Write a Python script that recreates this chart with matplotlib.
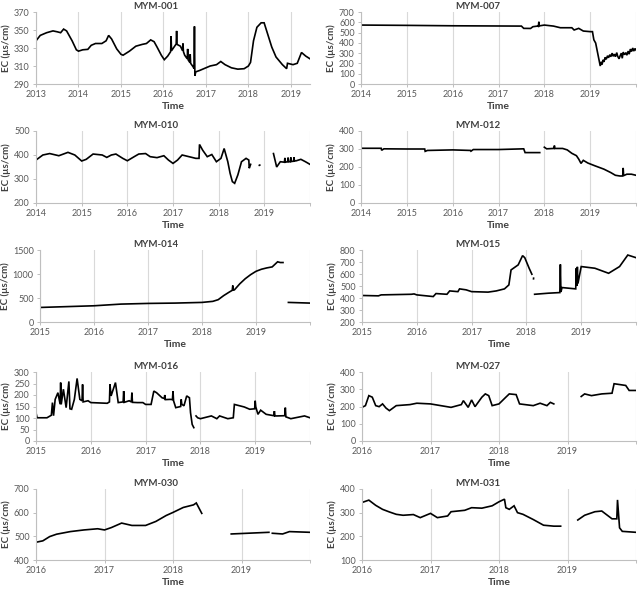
import numpy as np
from matplotlib import pyplot as plt

plt.rcParams['font.family'] = ['Lato', 'DejaVu Sans']

nan = float('nan')

# ---------------- data (decimal year, EC in µs/cm) ----------------
mym001_year = [2013.0, 2013.1, 2013.25, 2013.4, 2013.5, 2013.58, 2013.65, 2013.72, 2013.85, 2013.95,
               2014.0, 2014.1, 2014.22, 2014.3, 2014.4, 2014.55, 2014.65, 2014.71, 2014.78, 2014.9,
               2015.0, 2015.05, 2015.2, 2015.35, 2015.5, 2015.6, 2015.7, 2015.78, 2015.85, 2015.95,
               2016.02, 2016.1, 2016.17, 2016.18, 2016.19, 2016.3, 2016.31, 2016.32, 2016.4, 2016.45,
               2016.46, 2016.47, 2016.5, 2016.56, 2016.57, 2016.58, 2016.62, 2016.63, 2016.64, 2016.7,
               2016.72, 2016.73, 2016.74, 2016.76, 2016.85, 2016.95, 2017.1, 2017.25, 2017.35, 2017.45,
               2017.6, 2017.75, 2017.9, 2018.0, 2018.05, 2018.12, 2018.2, 2018.3, 2018.37, 2018.45,
               2018.55, 2018.65, 2018.8, 2018.9, 2018.92, 2019.05, 2019.15, 2019.25, 2019.35, 2019.45]
mym001_ec = [338, 344, 347, 349, 348, 347, 351, 349, 338, 328,
             326.5, 328, 328.5, 333, 335, 335, 338, 344, 340, 329,
             323, 322, 326.5, 332, 334, 335, 339, 337, 331, 322,
             317, 321, 326, 343, 327, 334.5, 349, 334, 332, 327,
             335, 326, 322, 318, 329, 317, 314, 323, 313, 309,
             307, 354, 299, 303.5, 305, 307, 310, 311.5, 315, 311.5,
             308, 306.5, 307, 310, 314, 338, 353, 358, 358, 346,
             331, 320, 311.5, 307, 313, 311.5, 313, 325, 321, 318]

mym007_year = [2014.0, 2015.0, 2016.0, 2017.0, 2017.5, 2017.55, 2017.7, 2017.75, 2017.85, 2017.87,
               2017.88, 2017.89, 2018.0, 2018.2, 2018.35, 2018.6, 2018.65, 2018.75, 2018.85, 2019.0,
               2019.05, 2019.08, 2019.12, 2019.17, 2019.22, 2019.24, 2019.26, 2019.28, 2019.3, 2019.33,
               2019.35, 2019.38, 2019.4, 2019.43, 2019.45, 2019.48, 2019.5, 2019.53, 2019.55, 2019.58,
               2019.6, 2019.63, 2019.65, 2019.68, 2019.7, 2019.72, 2019.75, 2019.78, 2019.8, 2019.83,
               2019.85, 2019.88, 2019.9, 2019.93, 2019.95, 2019.98, 2020.0]
mym007_ec = [573, 570, 566, 564, 563, 541, 540, 557, 563, 560,
             605, 565, 573, 563, 547, 547, 525, 541, 515, 509,
             509, 430, 398, 286, 175, 215, 190, 235, 215, 260,
             240, 275, 255, 285, 265, 300, 270, 290, 265, 305,
             270, 245, 270, 300, 250, 310, 285, 305, 280, 320,
             290, 340, 315, 350, 320, 345, 330]

mym010_year = [2014.0, 2014.15, 2014.3, 2014.5, 2014.7, 2014.85, 2015.0, 2015.1, 2015.25, 2015.45,
               2015.55, 2015.65, 2015.75, 2015.9, 2016.0, 2016.15, 2016.25, 2016.4, 2016.5, 2016.65,
               2016.8, 2016.9, 2017.0, 2017.1, 2017.2, 2017.35, 2017.5, 2017.57, 2017.58, 2017.65,
               2017.75, 2017.85, 2017.95, 2018.05, 2018.12, 2018.2, 2018.25, 2018.3, 2018.35, 2018.42,
               2018.5, 2018.6, 2018.66, 2018.67, 2018.7, 2018.72,
               2018.89, 2018.9, 2018.91,
               2019.2, 2019.27, 2019.35, 2019.44, 2019.45, 2019.46, 2019.51, 2019.52, 2019.53, 2019.57,
               2019.58, 2019.59, 2019.64, 2019.65, 2019.66, 2019.7, 2019.8, 2019.9, 2020.0]
mym010_ec = [379, 400, 406, 397, 411, 400, 375, 382, 404, 400,
             390, 400, 404, 386, 376, 393, 404, 406, 393, 389,
             397, 379, 365, 379, 400, 393, 386, 386, 444, 420,
             393, 402, 372, 386, 427, 372, 324, 289, 282, 317,
             372, 386, 379, 345, 361, nan,
             357, 358, nan,
             406, 350, 372, 370, 388, 370, 372, 389, 372, 372,
             390, 373, 374, 390, 375, 376, 382, 372, 361]

mym012_year = [2014.0, 2014.44, 2014.45, 2014.5, 2015.0, 2015.39, 2015.4, 2015.45, 2016.0, 2016.39,
               2016.4, 2016.45, 2017.0, 2017.55, 2017.58, 2017.9, 2017.95,
               2018.0, 2018.05, 2018.2, 2018.21, 2018.22, 2018.23, 2018.4, 2018.5, 2018.6, 2018.7,
               2018.75, 2018.8, 2018.85, 2018.95, 2019.1, 2019.3, 2019.45, 2019.55, 2019.65, 2019.71,
               2019.72, 2019.73, 2019.8, 2019.9, 2020.0]
mym012_ec = [304, 304, 293, 301, 300, 300, 287, 292, 295, 292,
             288, 297, 297, 301, 280, 280, nan,
             310, 301, 303, 303, 319, 303, 303, 295, 276, 263,
             244, 220, 237, 222, 207, 188, 169, 154, 150, 150,
             195, 152, 160, 160, 154]

mym014_year = [2015.0, 2016.0, 2016.5, 2017.0, 2017.5, 2018.0, 2018.2, 2018.3, 2018.4, 2018.5,
               2018.56, 2018.57, 2018.58, 2018.6, 2018.7, 2018.8, 2018.9, 2019.0, 2019.1, 2019.2,
               2019.3, 2019.4, 2019.45, 2019.5, 2019.55,
               2019.6, 2020.0]
mym014_ec = [303, 338, 373, 387, 394, 408, 430, 465, 549, 620,
             660, 760, 665, 669, 796, 901, 986, 1056, 1099, 1127,
             1148, 1254, 1239, 1239, nan,
             408, 394]

mym015_year = [2015.0, 2015.3, 2015.35, 2015.9, 2015.95, 2016.0, 2016.3, 2016.35, 2016.55, 2016.6,
               2016.75, 2016.78, 2016.9, 2017.0, 2017.3, 2017.45, 2017.6, 2017.68, 2017.72, 2017.85,
               2017.93, 2017.97, 2018.05, 2018.1, 2018.11,
               2018.13, 2018.131, 2018.14,
               2018.15, 2018.4, 2018.6, 2018.61, 2018.62, 2018.63, 2018.65, 2018.9, 2018.91, 2018.92,
               2018.93, 2018.94, 2019.0, 2019.25, 2019.5, 2019.7, 2019.85, 2020.0]
mym015_ec = [421, 418, 426, 431, 434, 426, 412, 437, 431, 459,
             453, 476, 468, 453, 449, 459, 476, 509, 634, 676,
             753, 736, 648, 598, nan,
             560, 565, nan,
             431, 440, 445, 445, 680, 450, 487, 476, 648, 500,
             660, 520, 662, 648, 606, 662, 758, 736]

mym016_year = [2015.0, 2015.02, 2015.2, 2015.28, 2015.3, 2015.32, 2015.35, 2015.4, 2015.44, 2015.45,
               2015.46, 2015.5, 2015.55, 2015.6, 2015.62, 2015.65, 2015.7, 2015.75, 2015.8, 2015.84,
               2015.85, 2015.86, 2015.95, 2016.0, 2016.3, 2016.34, 2016.35, 2016.37, 2016.45, 2016.5,
               2016.59, 2016.6, 2016.61, 2016.7, 2016.74, 2016.75, 2016.76, 2016.85, 2016.95, 2017.0,
               2017.1, 2017.15, 2017.2, 2017.3, 2017.34, 2017.35, 2017.36, 2017.45, 2017.49, 2017.5,
               2017.51, 2017.55, 2017.64, 2017.65, 2017.66, 2017.7, 2017.75, 2017.8, 2017.82, 2017.85,
               2017.88, 2017.9,
               2017.92, 2017.95, 2018.0, 2018.2, 2018.3, 2018.35, 2018.5, 2018.6, 2018.62, 2018.8,
               2018.9, 2018.99, 2019.0, 2019.01, 2019.05, 2019.1, 2019.2, 2019.34, 2019.35, 2019.36,
               2019.4, 2019.54, 2019.55, 2019.56, 2019.65, 2019.9, 2020.0]
mym016_ec = [123, 101, 101, 112, 167, 110, 181, 210, 160, 254,
             159, 225, 145, 259, 140, 138, 181, 272, 181, 175,
             246, 170, 175, 167, 164, 170, 246, 196, 254, 167,
             170, 217, 168, 175, 170, 210, 168, 167, 167, 159,
             159, 217, 210, 188, 185, 200, 180, 181, 180, 217,
             175, 145, 150, 181, 160, 153, 196, 188, 123, 72,
             58, nan,
             109, 101, 97, 109, 97, 109, 97, 101, 159, 148,
             138, 140, 175, 149, 116, 134, 116, 110, 130, 109,
             109, 110, 145, 105, 97, 109, 101]

mym027_year = [2016.0, 2016.05, 2016.1, 2016.15, 2016.2, 2016.25, 2016.3, 2016.35, 2016.4, 2016.5,
               2016.7, 2016.8, 2017.0, 2017.15, 2017.3, 2017.45, 2017.48, 2017.55, 2017.6, 2017.65,
               2017.75, 2017.8, 2017.85, 2017.9, 2018.0, 2018.1, 2018.15, 2018.25, 2018.3, 2018.5,
               2018.6, 2018.7, 2018.75, 2018.8, 2018.85,
               2019.2, 2019.25, 2019.35, 2019.5, 2019.65, 2019.68, 2019.85, 2019.9, 2020.0]
mym027_ec = [195, 205, 263, 254, 205, 199, 215, 191, 176, 205,
             211, 219, 215, 205, 195, 211, 234, 195, 238, 199,
             254, 273, 263, 205, 215, 254, 273, 269, 215, 205,
             219, 205, 224, 215, nan,
             258, 273, 263, 273, 277, 332, 322, 293, 293]

mym030_year = [2016.0, 2016.1, 2016.2, 2016.3, 2016.5, 2016.7, 2016.9, 2017.0, 2017.1, 2017.25,
               2017.4, 2017.6, 2017.75, 2017.9, 2018.0, 2018.15, 2018.3, 2018.34, 2018.42, 2018.5,
               2018.85, 2019.4, 2019.43,
               2019.45, 2019.6, 2019.7, 2020.0]
mym030_ec = [475, 481, 499, 509, 520, 527, 532, 527, 537, 556,
             546, 546, 563, 588, 601, 622, 633, 641, 597, nan,
             510, 517, nan,
             513, 510, 520, 517]

mym031_year = [2016.0, 2016.1, 2016.2, 2016.3, 2016.4, 2016.5, 2016.6, 2016.75, 2016.85, 2017.0,
               2017.1, 2017.25, 2017.3, 2017.5, 2017.6, 2017.75, 2017.9, 2018.0, 2018.08, 2018.1,
               2018.15, 2018.22, 2018.27, 2018.35, 2018.5, 2018.65, 2018.8, 2018.9, 2019.0,
               2019.15, 2019.25, 2019.4, 2019.5, 2019.65, 2019.72, 2019.73, 2019.76, 2019.8, 2020.0]
mym031_ec = [343, 353, 331, 314, 303, 293, 289, 292, 279, 297,
             279, 286, 304, 310, 321, 319, 329, 346, 357, 321,
             314, 329, 300, 293, 271, 247, 243, 243, nan,
             269, 289, 304, 307, 274, 274, 354, 236, 221, 217]

# ---------------- panels ----------------
panels = [
    ('MYM-001', mym001_year, mym001_ec, (2013, 2019.45), (290, 370), np.arange(290, 371, 20)),
    ('MYM-007', mym007_year, mym007_ec, (2014, 2020), (0, 700), np.arange(0, 701, 100)),
    ('MYM-010', mym010_year, mym010_ec, (2014, 2020), (200, 500), np.arange(200, 501, 100)),
    ('MYM-012', mym012_year, mym012_ec, (2014, 2020), (0, 400), np.arange(0, 401, 100)),
    ('MYM-014', mym014_year, mym014_ec, (2015, 2020), (0, 1500), np.arange(0, 1501, 500)),
    ('MYM-015', mym015_year, mym015_ec, (2015, 2020), (200, 800), np.arange(200, 801, 100)),
    ('MYM-016', mym016_year, mym016_ec, (2015, 2020), (0, 300), np.arange(0, 301, 50)),
    ('MYM-027', mym027_year, mym027_ec, (2016, 2020), (0, 400), np.arange(0, 401, 100)),
    ('MYM-030', mym030_year, mym030_ec, (2016, 2020), (400, 700), np.arange(400, 701, 100)),
    ('MYM-031', mym031_year, mym031_ec, (2016, 2020), (100, 400), np.arange(100, 401, 100)),
]

W, H = 643, 589
rows_px = [(12, 84), (131, 203), (250, 322), (372, 441), (489, 560)]
left_px = [36, 361, 36, 361, 40, 362, 36, 362, 36, 362]
right_px = [310, 636]

fig = plt.figure(figsize=(W / 100, H / 100), dpi=100)
grid_col = '#d9d9d9'
txt_col = '#595959'

for i, (name, xs, ys, xlim, ylim, yticks) in enumerate(panels):
    r, c = divmod(i, 2)
    top, bot = rows_px[r]
    x0 = left_px[i]
    ax = fig.add_axes([x0 / W, 1 - bot / H, (right_px[c] - x0) / W, (bot - top) / H])
    ax.plot(xs, ys, color='black', linewidth=1.2, solid_joinstyle='miter')
    ax.set_xlim(*xlim)
    ax.set_ylim(*ylim)
    years = np.arange(int(xlim[0]), int(np.ceil(xlim[1])) + 1)
    years = years[years <= xlim[1]]
    ax.set_xticks(years)
    ax.set_xticklabels([str(y) if y < 2020 else '' for y in years])
    ax.set_yticks(yticks)
    ax.grid(axis='x', color=grid_col, linewidth=0.8)
    ax.set_axisbelow(True)
    for s in ['top', 'right']:
        ax.spines[s].set_visible(False)
    for s in ['left', 'bottom']:
        ax.spines[s].set_color('#bfbfbf')
        ax.spines[s].set_linewidth(0.8)
    ax.tick_params(axis='both', labelsize=6.5, colors=txt_col, length=2.5, width=0.7, pad=2)
    ax.tick_params(axis='both', color='#bfbfbf')
    ax.set_xlabel('Time', fontsize=7.5, fontweight='bold', color='#404040', labelpad=2)
    ax.set_ylabel('EC (µs/cm)', fontsize=7, fontweight='bold', color='#404040', labelpad=2)
    # title centred over the whole chart cell, as in the source layout
    cx = (c * 322 + 156) / W
    fig.text(cx, 1 - (top - 3) / H, name, ha='center', va='baseline',
             fontsize=7, fontweight='bold', color='#404040')

plt.savefig('out.png', dpi=100)
